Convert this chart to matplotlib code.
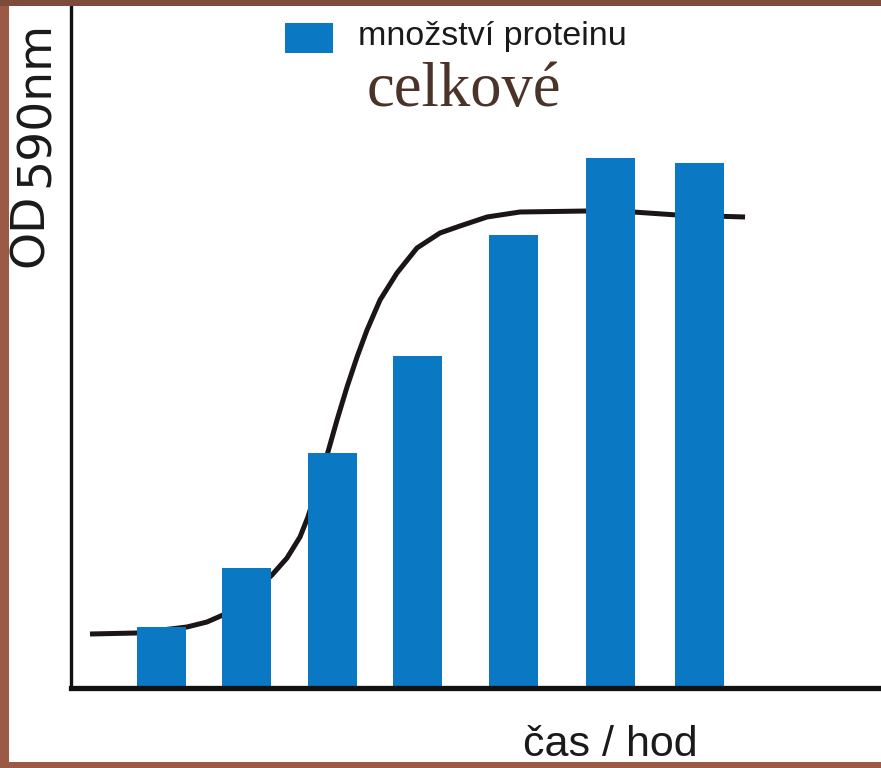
import matplotlib
matplotlib.use("Agg")
import matplotlib.pyplot as plt
from matplotlib.patches import Rectangle
from matplotlib import font_manager

# ---- data ----
times = [1.0, 2.0, 3.0, 4.0, 5.12, 6.25, 7.29]
protein = [0.61, 1.20, 2.35, 3.32, 4.53, 5.30, 5.25]

curve_t = [0.164, 0.713, 1.298, 1.532, 1.719, 2.012, 2.292, 2.468, 2.620, 2.713,
           2.830, 2.947, 3.053, 3.170, 3.287, 3.404, 3.556, 3.754, 3.988, 4.257,
           4.491, 4.807, 5.193, 5.977, 6.515, 7.029, 7.825]
curve_od = [0.54, 0.55, 0.61, 0.66, 0.73, 0.90, 1.13, 1.30, 1.51, 1.71,
            2.03, 2.36, 2.68, 3.01, 3.31, 3.58, 3.88, 4.15, 4.40, 4.55,
            4.62, 4.71, 4.76, 4.77, 4.76, 4.73, 4.71]

legend_label = "množství proteinu"
subtitle = "celkové"
xlabel = "čas / hod"
ylabel_main = "OD"
ylabel_sub = "590nm"

# ---- style ----
W, H = 881, 768
BAR_COLOR = "#0a78c2"
LINE_COLOR = "#1c1515"
BROWN = "#9a5a45"
BROWN_TOP = "#7c4b39"


def pick(names):
    for n in names:
        try:
            font_manager.findfont(n, fallback_to_default=False)
            return n
        except Exception:
            pass
    return "DejaVu Sans"


narrow = pick(["Liberation Sans Narrow", "Liberation Sans"])
serif = pick(["Liberation Serif", "DejaVu Serif"])

fig = plt.figure(figsize=(W / 100, H / 100), dpi=100)
fig.patch.set_facecolor("white")


def fx(px):
    return px / W


def fy(py):
    return 1 - py / H


ax = fig.add_axes([fx(71), fy(688), fx(881) - fx(71), fy(6) - fy(688)])
ax.set_xlim(-0.058, 9.415)
ax.set_ylim(0, 6.82)
ax.set_facecolor("none")

ax.plot(curve_t, curve_od, color=LINE_COLOR, lw=3.6, solid_capstyle="butt",
        solid_joinstyle="round", zorder=2)
ax.bar(times, protein, width=0.573, color=BAR_COLOR, zorder=3)

for s in ["top", "right"]:
    ax.spines[s].set_visible(False)
ax.spines["left"].set_linewidth(2.4)
ax.spines["bottom"].set_linewidth(3.8)
ax.spines["left"].set_color("#111111")
ax.spines["bottom"].set_color("#111111")
ax.spines["left"].set_zorder(4)
ax.spines["bottom"].set_zorder(4)
ax.set_xticks([])
ax.set_yticks([])

# legend swatch and text
fig.add_artist(Rectangle((fx(285), fy(53)), fx(333) - fx(285), fy(23) - fy(53),
                         transform=fig.transFigure, facecolor=BAR_COLOR,
                         edgecolor="none"))
fig.text(fx(358), fy(45), legend_label, fontsize=24.5, family=narrow,
         color="#1a1a1a", ha="left", va="baseline")
fig.text(fx(367), fy(106), subtitle, fontsize=45, family=serif,
         color="#4a3328", ha="left", va="baseline")
fig.text(fx(523), fy(756), xlabel, fontsize=31, family=narrow,
         color="#1a1a1a", ha="left", va="baseline")

# y label: "OD" with subscript-like "590nm"
fig.text(fx(43), fy(267), ylabel_main, fontsize=34, family="DejaVu Sans",
         color="#1a1a1a", rotation=90, rotation_mode="anchor",
         ha="left", va="baseline")
fig.text(fx(49), fy(267 - 73 - 7), ylabel_sub, fontsize=34, family="DejaVu Sans",
         color="#1a1a1a", rotation=90, rotation_mode="anchor",
         ha="left", va="baseline")

# brown frame
frame = [
    (0, 0, 9, H, BROWN),
    (0, 0, W, 6, BROWN_TOP),
    (0, 762, W, H - 762, BROWN),
]
for x0, y0, w, h, c in frame:
    fig.add_artist(Rectangle((fx(x0), fy(y0 + h)), fx(w), h / H,
                             transform=fig.transFigure, facecolor=c,
                             edgecolor="none", zorder=10))

fig.savefig("out.png", dpi=100)
